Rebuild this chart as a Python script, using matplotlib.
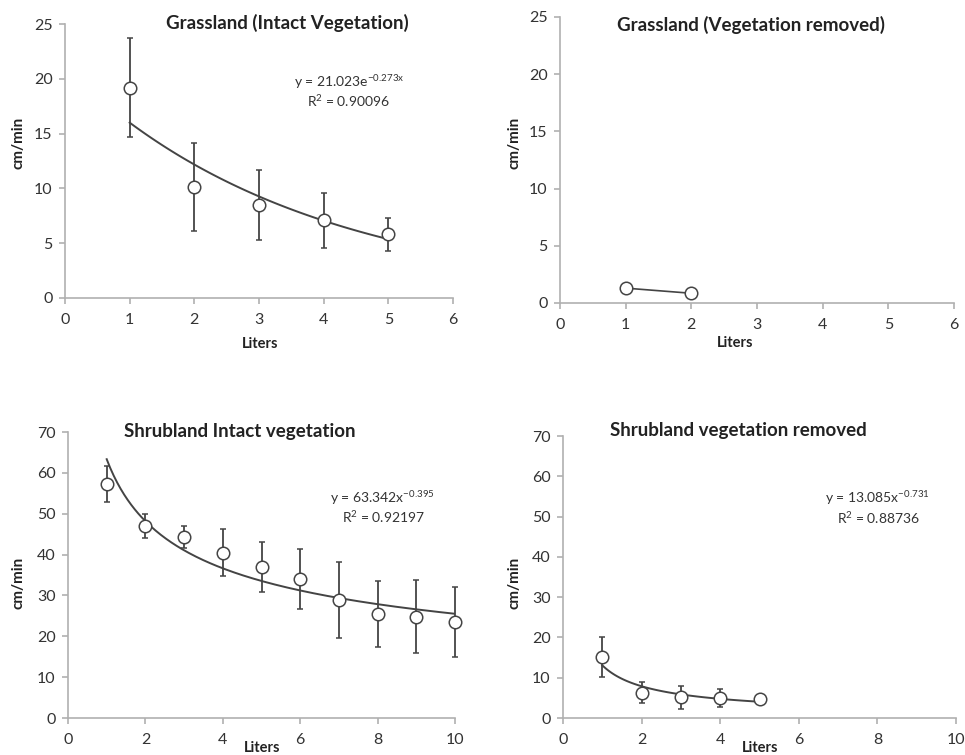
import numpy as np
import matplotlib
matplotlib.use("Agg")
import matplotlib.pyplot as plt

plt.rcParams["font.family"] = ["Lato", "DejaVu Sans"]
plt.rcParams["mathtext.fontset"] = "custom"
plt.rcParams["mathtext.rm"] = "Lato"
plt.rcParams["mathtext.it"] = "Lato"

# === Data ===
grass_intact_x = [1, 2, 3, 4, 5]
grass_intact_y = [19.2, 10.1, 8.5, 7.1, 5.8]
grass_intact_err = [4.5, 4.0, 3.2, 2.5, 1.5]

grass_removed_x = [1, 2]
grass_removed_y = [1.3, 0.85]
grass_removed_err = [0.3, 0.1]

shrub_intact_x = [1, 2, 3, 4, 5, 6, 7, 8, 9, 10]
shrub_intact_y = [57.2, 47.0, 44.3, 40.5, 37.0, 34.0, 29.0, 25.5, 24.8, 23.5]
shrub_intact_err = [4.4, 3.0, 2.8, 5.7, 6.1, 7.4, 9.3, 8.0, 9.0, 8.6]

shrub_removed_x = [1, 2, 3, 4, 5]
shrub_removed_y = [15.2, 6.3, 5.1, 5.0, 4.6]
shrub_removed_err = [4.9, 2.7, 2.8, 2.2, 0.0]

AX_COL = "#b0b0b0"
TXT_COL = "#333333"
MARK_COL = "#444444"
W, H = 965, 755

TITLE_FS = 13.5
EQ_FS = 10
YLAB_FS = 11
XLAB_FS = 10.5


def fx(px):
    return px / W


def fy(py):
    return 1 - py / H


def setup(ax, xmax, xstep, ymax, ystep):
    ax.set_xlim(0, xmax)
    ax.set_ylim(0, ymax)
    ax.set_xticks(np.arange(0, xmax + 0.1, xstep))
    ax.set_yticks(np.arange(0, ymax + 0.1, ystep))
    for s in ["top", "right"]:
        ax.spines[s].set_visible(False)
    for s in ["left", "bottom"]:
        ax.spines[s].set_color(AX_COL)
        ax.spines[s].set_linewidth(1.2)
    ax.tick_params(colors=AX_COL, labelcolor=TXT_COL, labelsize=11.5,
                   length=4, width=1.2)
    ax.tick_params(axis="x", pad=7)
    ax.tick_params(axis="y", pad=5)
    for sp in ax.spines.values():
        sp.set_clip_on(False)


def points(ax, x, y, err):
    ax.errorbar(x, y, yerr=err, fmt="o", mfc="white", mec=MARK_COL,
                ms=9, mew=1.1, ecolor=MARK_COL, elinewidth=1.3,
                capsize=2.5, capthick=1.2, zorder=3, clip_on=False)


fig = plt.figure(figsize=(9.65, 7.55), dpi=100)

# === Grassland intact ===
ax1 = fig.add_axes([fx(65), fy(298), fx(453) - fx(65), fy(24) - fy(298)])
setup(ax1, 6, 1, 25, 5)
xf = np.linspace(1, 5, 100)
ax1.plot(xf, 21.023 * np.exp(-0.273 * xf), color=MARK_COL, lw=1.4, zorder=2)
points(ax1, grass_intact_x, grass_intact_y, grass_intact_err)
fig.text(fx(287), fy(23), "Grassland (Intact Vegetation)", ha="center",
         va="center", fontsize=TITLE_FS, fontweight="bold", color="#222222")
fig.text(fx(349), fy(82), r"y = 21.023e$^{-0.273x}$", ha="center",
         va="center", fontsize=EQ_FS, color=TXT_COL)
fig.text(fx(348), fy(101), r"R$^{2}$ = 0.90096", ha="center",
         va="center", fontsize=EQ_FS, color=TXT_COL)
fig.text(fx(18), fy(143), "cm/min", rotation=90, ha="center", va="center",
         fontsize=YLAB_FS, fontweight="bold", color="#222222")
fig.text(fx(260), fy(344), "Liters", ha="center", va="center",
         fontsize=XLAB_FS, fontweight="bold", color="#222222")

# === Grassland removed ===
ax2 = fig.add_axes([fx(560), fy(303), fx(954) - fx(560), fy(17) - fy(303)])
setup(ax2, 6, 1, 25, 5)
ax2.plot(grass_removed_x, grass_removed_y, color=MARK_COL, lw=1.2, zorder=2)
points(ax2, grass_removed_x, grass_removed_y, grass_removed_err)
fig.text(fx(751), fy(25), "Grassland (Vegetation removed)", ha="center",
         va="center", fontsize=TITLE_FS, fontweight="bold", color="#222222")
fig.text(fx(515), fy(143), "cm/min", rotation=90, ha="center", va="center",
         fontsize=YLAB_FS, fontweight="bold", color="#222222")
fig.text(fx(735), fy(343), "Liters", ha="center", va="center",
         fontsize=XLAB_FS, fontweight="bold", color="#222222")

# === Shrubland intact ===
ax3 = fig.add_axes([fx(68), fy(718), fx(455) - fx(68), fy(432) - fy(718)])
setup(ax3, 10, 2, 70, 10)
xf = np.linspace(1, 10, 200)
ax3.plot(xf, 63.342 * xf ** -0.395, color=MARK_COL, lw=1.4, zorder=2)
points(ax3, shrub_intact_x, shrub_intact_y, shrub_intact_err)
fig.text(fx(240), fy(432), "Shrubland Intact vegetation", ha="center",
         va="center", fontsize=TITLE_FS, fontweight="bold", color="#222222")
fig.text(fx(382), fy(498), r"y = 63.342x$^{-0.395}$", ha="center",
         va="center", fontsize=EQ_FS, color=TXT_COL)
fig.text(fx(383), fy(517), r"R$^{2}$ = 0.92197", ha="center",
         va="center", fontsize=EQ_FS, color=TXT_COL)
fig.text(fx(18), fy(583), "cm/min", rotation=90, ha="center", va="center",
         fontsize=YLAB_FS, fontweight="bold", color="#222222")
fig.text(fx(262), fy(748), "Liters", ha="center", va="center",
         fontsize=XLAB_FS, fontweight="bold", color="#222222")

# === Shrubland removed ===
ax4 = fig.add_axes([fx(563), fy(718), fx(956) - fx(563), fy(436) - fy(718)])
setup(ax4, 10, 2, 70, 10)
xf = np.linspace(1, 5, 100)
ax4.plot(xf, 13.085 * xf ** -0.731, color=MARK_COL, lw=1.4, zorder=2)
points(ax4, shrub_removed_x, shrub_removed_y, shrub_removed_err)
fig.text(fx(738), fy(431), "Shrubland vegetation removed", ha="center",
         va="center", fontsize=TITLE_FS, fontweight="bold", color="#222222")
fig.text(fx(877), fy(498), r"y = 13.085x$^{-0.731}$", ha="center",
         va="center", fontsize=EQ_FS, color=TXT_COL)
fig.text(fx(878), fy(518), r"R$^{2}$ = 0.88736", ha="center",
         va="center", fontsize=EQ_FS, color=TXT_COL)
fig.text(fx(515), fy(583), "cm/min", rotation=90, ha="center", va="center",
         fontsize=YLAB_FS, fontweight="bold", color="#222222")
fig.text(fx(760), fy(748), "Liters", ha="center", va="center",
         fontsize=XLAB_FS, fontweight="bold", color="#222222")

fig.savefig("out.png", dpi=100)
